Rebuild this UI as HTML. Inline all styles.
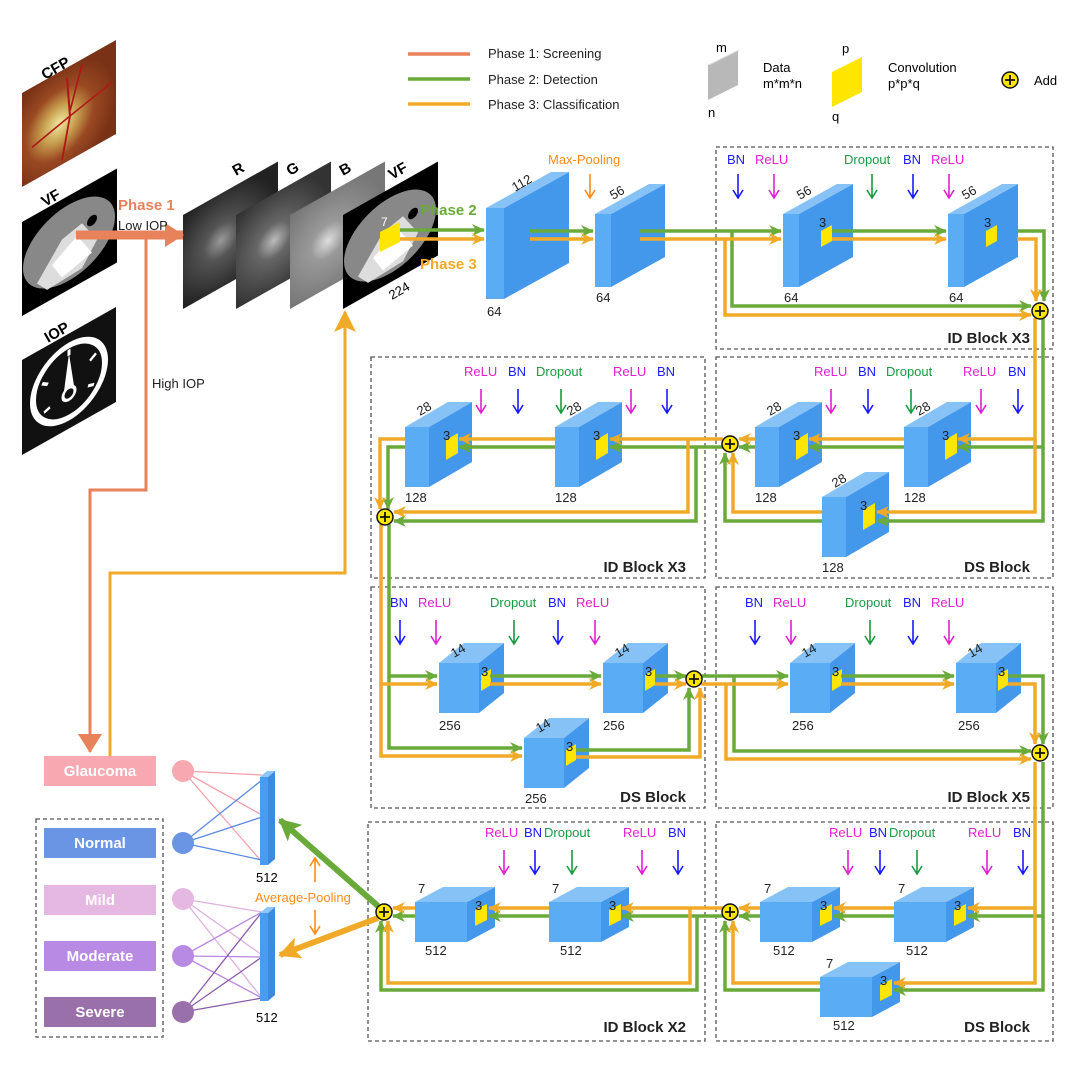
<!DOCTYPE html>
<html><head><meta charset="utf-8"><style>
html,body{margin:0;padding:0;background:#fff;}
svg{display:block;font-family:"Liberation Sans",Arial,sans-serif;}
</style></head><body>
<svg width="1080" height="1085" viewBox="0 0 1080 1085" xmlns="http://www.w3.org/2000/svg">
<defs>
<marker id="mg" markerUnits="userSpaceOnUse" markerWidth="14" markerHeight="14" refX="12" refY="7" orient="auto"><path d="M0,1 L13,7 L0,13 L4,7 Z" fill="#6aaa3a"/></marker>
<marker id="mo" markerUnits="userSpaceOnUse" markerWidth="14" markerHeight="14" refX="12" refY="7" orient="auto"><path d="M0,1 L13,7 L0,13 L4,7 Z" fill="#f0aa28"/></marker>
<marker id="ms" markerUnits="userSpaceOnUse" markerWidth="20" markerHeight="24" refX="18" refY="12" orient="auto"><path d="M0,0 L19,12 L0,24 Z" fill="#e8825a"/></marker>
<marker id="mgb" markerUnits="userSpaceOnUse" markerWidth="24" markerHeight="24" refX="20" refY="12" orient="auto"><path d="M0,1 L22,12 L0,23 L5,12 Z" fill="#6aaa3a"/></marker>
<marker id="mob" markerUnits="userSpaceOnUse" markerWidth="24" markerHeight="24" refX="20" refY="12" orient="auto"><path d="M0,1 L22,12 L0,23 L5,12 Z" fill="#f0aa28"/></marker>
<radialGradient id="cfp" cx="0.4" cy="0.55" r="0.6"><stop offset="0" stop-color="#f0e8a0"/><stop offset="0.3" stop-color="#c8a050"/><stop offset="0.6" stop-color="#9a4a22"/><stop offset="1" stop-color="#7a3216"/></radialGradient>
<radialGradient id="gr1" cx="0.4" cy="0.5" r="0.6"><stop offset="0" stop-color="#999"/><stop offset="0.3" stop-color="#555"/><stop offset="1" stop-color="#222"/></radialGradient>
<radialGradient id="gr2" cx="0.4" cy="0.5" r="0.6"><stop offset="0" stop-color="#bbb"/><stop offset="0.3" stop-color="#666"/><stop offset="1" stop-color="#333"/></radialGradient>
<radialGradient id="gr3" cx="0.4" cy="0.5" r="0.6"><stop offset="0" stop-color="#ddd"/><stop offset="0.3" stop-color="#999"/><stop offset="1" stop-color="#777"/></radialGradient>
<g id="vfimg"><rect width="95" height="94" fill="#000"/><ellipse cx="47" cy="47" rx="46" ry="38" fill="#888"/><path d="M15,70 L40,40 L60,35 L75,60 L60,80 L25,82 Z" fill="#ddd"/><path d="M30,60 L55,45 L70,70 L40,78Z" fill="#fff"/><ellipse cx="70" cy="38" rx="5" ry="5" fill="#000"/></g>
<g id="cA"><rect x="0" y="0" width="18" height="91" fill="#5aacf4"/><polygon points="18,0 83,-36 83,55 18,91" fill="#4498ec"/><polygon points="0,0 65,-36 83,-36 18,0" fill="#86c2f6"/></g>
<g id="cP"><rect x="0" y="0" width="16" height="73" fill="#5aacf4"/><polygon points="16,0 70,-30 70,43 16,73" fill="#4498ec"/><polygon points="0,0 54,-30 70,-30 16,0" fill="#86c2f6"/></g>
<g id="cPy"><use href="#cP"/><polygon points="38,17 49,11 49,27 38,33" fill="#ffe600"/></g>
<g id="c28"><rect x="0" y="0" width="24" height="60" fill="#5aacf4"/><polygon points="24,0 67,-25 67,35 24,60" fill="#4498ec"/><polygon points="0,0 43,-25 67,-25 24,0" fill="#86c2f6"/><polygon points="41,13 53,6 53,26 41,33" fill="#ffe600"/></g>
<g id="c14"><rect x="0" y="0" width="40" height="50" fill="#5aacf4"/><polygon points="40,0 65,-20 65,30 40,50" fill="#4498ec"/><polygon points="0,0 25,-20 65,-20 40,0" fill="#86c2f6"/><polygon points="42,12 52,6 52,22 42,28" fill="#ffe600"/></g>
<g id="c7"><rect x="0" y="0" width="52" height="40" fill="#5aacf4"/><polygon points="52,0 80,-15 80,25 52,40" fill="#4498ec"/><polygon points="0,0 28,-15 80,-15 52,0" fill="#86c2f6"/><polygon points="60,8 72,2 72,18 60,24" fill="#ffe600"/></g>
<g id="plus"><circle r="8" fill="#ffe600" stroke="#111" stroke-width="1.5"/><path d="M-5,0 H5 M0,-5 V5" stroke="#111" stroke-width="1.8"/></g>
</defs>

<!-- Legend -->
<g stroke-width="3.5"><line x1="408" y1="54" x2="470" y2="54" stroke="#e8825a"/><line x1="408" y1="79" x2="470" y2="79" stroke="#6aaa3a"/><line x1="408" y1="104" x2="470" y2="104" stroke="#f0aa28"/></g>
<g font-size="13" fill="#222"><text x="488" y="58">Phase 1: Screening</text><text x="488" y="84">Phase 2: Detection</text><text x="488" y="109">Phase 3: Classification</text></g>
<polygon points="708,65 738,50 738,85 708,100" fill="#b8b8b8"/><polygon points="708,65 738,50 740,50 710,65" fill="#ddd"/>
<text x="716" y="52" font-size="13">m</text><text x="708" y="117" font-size="13">n</text>
<text x="763" y="72" font-size="13">Data</text><text x="763" y="88" font-size="13">m*m*n</text>
<polygon points="832,72 862,57 862,92 832,107" fill="#ffe600"/>
<text x="842" y="53" font-size="13">p</text><text x="832" y="121" font-size="13">q</text>
<text x="888" y="72" font-size="13">Convolution</text><text x="888" y="88" font-size="13">p*p*q</text>
<use href="#plus" x="1010" y="80"/><text x="1034" y="85" font-size="13">Add</text>

<!-- Left images -->
<g transform="translate(22,93) skewY(-29.4)"><rect width="94" height="94" fill="url(#cfp)"/><path d="M45,10 L48,50 L40,90 M48,50 L90,40 M48,50 L10,60 M48,45 L60,5" stroke="#b01818" stroke-width="2" fill="none"/></g>
<text transform="translate(45,80) rotate(-30)" font-size="15" font-weight="bold">CFP</text>
<g transform="translate(22,222) skewY(-29.4)"><use href="#vfimg"/></g>
<text transform="translate(45,207) rotate(-30)" font-size="15" font-weight="bold">VF</text>
<g transform="translate(22,360) skewY(-29.4)"><rect width="94" height="95" fill="#111"/><circle cx="47" cy="48" r="36" fill="none" stroke="#fff" stroke-width="6"/><path d="M47,20 L52,55 L42,55 Z" fill="#fff"/><circle cx="47" cy="60" r="6" fill="none" stroke="#fff" stroke-width="3"/><path d="M20,35 l6,4 M74,35 l-6,4 M47,16 v6 M22,65 l6,-2 M72,65 l-6,-2" stroke="#fff" stroke-width="3"/></g>
<text transform="translate(48,343) rotate(-30)" font-size="15" font-weight="bold">IOP</text>

<!-- RGB stack -->
<g transform="translate(183,215) skewY(-29.4)"><rect width="95" height="94" fill="url(#gr1)"/></g>
<g transform="translate(236,215) skewY(-29.4)"><rect width="95" height="94" fill="url(#gr2)"/></g>
<g transform="translate(290,215) skewY(-29.4)"><rect width="95" height="94" fill="url(#gr3)"/></g>
<g transform="translate(343,215) skewY(-29.4)"><use href="#vfimg"/></g>
<polygon points="380,232 400,222 400,242 380,252" fill="#ffe600"/>
<text x="381" y="226" font-size="12" fill="#fff">7</text>
<g font-size="15" font-weight="bold"><text transform="translate(236,176) rotate(-30)">R</text><text transform="translate(290,176) rotate(-30)">G</text><text transform="translate(343,176) rotate(-30)">B</text><text transform="translate(392,180) rotate(-30)">VF</text></g>
<text transform="translate(392,300) rotate(-30)" font-size="13">224</text>

<!-- phase 1 arrow and lines -->
<line x1="76" y1="235" x2="183" y2="235" stroke="#e8825a" stroke-width="9" marker-end="url(#ms)"/>
<text x="118" y="210" font-size="15" font-weight="bold" fill="#e8825a">Phase 1</text>
<text x="118" y="230" font-size="13" fill="#222">Low IOP</text>
<path d="M146,238 V490 H90 V752" fill="none" stroke="#e8825a" stroke-width="3" marker-end="url(#ms)"/>
<text x="152" y="388" font-size="13" fill="#222">High IOP</text>
<path d="M110,756 V573 H345 V312" fill="none" stroke="#f0aa28" stroke-width="3" marker-end="url(#mob)"/>
<text x="420" y="215" font-size="15" font-weight="bold" fill="#6aaa3a">Phase 2</text>
<text x="420" y="269" font-size="15" font-weight="bold" fill="#f0aa28">Phase 3</text>

<!-- Dashed boxes -->
<g fill="none" stroke="#555" stroke-width="1.3" stroke-dasharray="4,3">
<rect x="716" y="147" width="337" height="202"/>
<rect x="371" y="357" width="334" height="221"/><rect x="716" y="357" width="337" height="221"/>
<rect x="371" y="587" width="334" height="221"/><rect x="716" y="587" width="337" height="221"/>
<rect x="368" y="822" width="337" height="219"/><rect x="716" y="822" width="337" height="219"/>
<rect x="36" y="819" width="127" height="218"/>
</g>
<g font-size="15" font-weight="bold" fill="#222" text-anchor="end">
<text x="1030" y="343">ID Block  X3</text>
<text x="686" y="572">ID Block  X3</text><text x="1030" y="572">DS Block</text>
<text x="686" y="802">DS Block</text><text x="1030" y="802">ID Block  X5</text>
<text x="686" y="1032">ID Block  X2</text><text x="1030" y="1032">DS Block</text>
</g>

<!-- cubes -->
<use href="#cA" x="486" y="208"/><use href="#cP" x="595" y="214"/>
<use href="#cPy" x="783" y="214"/><use href="#cPy" x="948" y="214"/>
<use href="#c28" x="405" y="427"/><use href="#c28" x="555" y="427"/>
<use href="#c28" x="755" y="427"/><use href="#c28" x="904" y="427"/><use href="#c28" x="822" y="497"/>
<use href="#c14" x="439" y="663"/><use href="#c14" x="603" y="663"/><use href="#c14" x="524" y="738"/>
<use href="#c14" x="790" y="663"/><use href="#c14" x="956" y="663"/>
<use href="#c7" x="415" y="902"/><use href="#c7" x="549" y="902"/>
<use href="#c7" x="760" y="902"/><use href="#c7" x="894" y="902"/><use href="#c7" x="820" y="977"/>

<!-- cube labels -->
<g font-size="13" fill="#222">
<text transform="translate(515,192) rotate(-30)">112</text><text x="487" y="316">64</text>
<text transform="translate(613,200) rotate(-30)">56</text><text x="596" y="302">64</text>
<text transform="translate(800,200) rotate(-30)">56</text><text x="784" y="302">64</text><text x="819" y="227">3</text>
<text transform="translate(965,200) rotate(-30)">56</text><text x="949" y="302">64</text><text x="984" y="227">3</text>
<text transform="translate(420,416) rotate(-30)">28</text><text x="405" y="502">128</text><text x="443" y="440">3</text>
<text transform="translate(570,416) rotate(-30)">28</text><text x="555" y="502">128</text><text x="593" y="440">3</text>
<text transform="translate(770,416) rotate(-30)">28</text><text x="755" y="502">128</text><text x="793" y="440">3</text>
<text transform="translate(919,416) rotate(-30)">28</text><text x="904" y="502">128</text><text x="942" y="440">3</text>
<text transform="translate(835,488) rotate(-30)">28</text><text x="822" y="572">128</text><text x="860" y="510">3</text>
<text transform="translate(454,658) rotate(-30)">14</text><text x="439" y="730">256</text><text x="481" y="676">3</text>
<text transform="translate(618,658) rotate(-30)">14</text><text x="603" y="730">256</text><text x="645" y="676">3</text>
<text transform="translate(539,733) rotate(-30)">14</text><text x="525" y="803">256</text><text x="566" y="751">3</text>
<text transform="translate(805,658) rotate(-30)">14</text><text x="792" y="730">256</text><text x="832" y="676">3</text>
<text transform="translate(971,658) rotate(-30)">14</text><text x="958" y="730">256</text><text x="998" y="676">3</text>
<text x="418" y="893">7</text><text x="425" y="955">512</text><text x="475" y="910">3</text>
<text x="552" y="893">7</text><text x="560" y="955">512</text><text x="609" y="910">3</text>
<text x="764" y="893">7</text><text x="773" y="955">512</text><text x="820" y="910">3</text>
<text x="898" y="893">7</text><text x="906" y="955">512</text><text x="954" y="910">3</text>
<text x="826" y="968">7</text><text x="833" y="1030">512</text><text x="880" y="985">3</text>
</g>

<!-- op labels and arrows -->
<g font-size="13">
<text x="548" y="164" fill="#ff8c1a">Max-Pooling</text>
<text x="727" y="164" fill="#1a1aff">BN</text><text x="755" y="164" fill="#e020d0">ReLU</text><text x="844" y="164" fill="#1a9a40">Dropout</text><text x="903" y="164" fill="#1a1aff">BN</text><text x="931" y="164" fill="#e020d0">ReLU</text>
<text x="464" y="376" fill="#e020d0">ReLU</text><text x="508" y="376" fill="#1a1aff">BN</text><text x="536" y="376" fill="#1a9a40">Dropout</text><text x="613" y="376" fill="#e020d0">ReLU</text><text x="657" y="376" fill="#1a1aff">BN</text>
<text x="814" y="376" fill="#e020d0">ReLU</text><text x="858" y="376" fill="#1a1aff">BN</text><text x="886" y="376" fill="#1a9a40">Dropout</text><text x="963" y="376" fill="#e020d0">ReLU</text><text x="1008" y="376" fill="#1a1aff">BN</text>
<text x="390" y="607" fill="#1a1aff">BN</text><text x="418" y="607" fill="#e020d0">ReLU</text><text x="490" y="607" fill="#1a9a40">Dropout</text><text x="548" y="607" fill="#1a1aff">BN</text><text x="576" y="607" fill="#e020d0">ReLU</text>
<text x="745" y="607" fill="#1a1aff">BN</text><text x="773" y="607" fill="#e020d0">ReLU</text><text x="845" y="607" fill="#1a9a40">Dropout</text><text x="903" y="607" fill="#1a1aff">BN</text><text x="931" y="607" fill="#e020d0">ReLU</text>
<text x="485" y="837" fill="#e020d0">ReLU</text><text x="524" y="837" fill="#1a1aff">BN</text><text x="544" y="837" fill="#1a9a40">Dropout</text><text x="623" y="837" fill="#e020d0">ReLU</text><text x="668" y="837" fill="#1a1aff">BN</text>
<text x="829" y="837" fill="#e020d0">ReLU</text><text x="869" y="837" fill="#1a1aff">BN</text><text x="889" y="837" fill="#1a9a40">Dropout</text><text x="968" y="837" fill="#e020d0">ReLU</text><text x="1013" y="837" fill="#1a1aff">BN</text>
<text x="255" y="902" fill="#ff8c1a">Average-Pooling</text>
</g>
<g stroke-width="1.6" fill="none">
<path d="M590,174 V197 M585,190 L590,198 L595,190" stroke="#ff8c1a"/>
<path d="M738,174 V197 M733,190 L738,198 L743,190" stroke="#1a1aff"/><path d="M774,174 V197 M769,190 L774,198 L779,190" stroke="#e020d0"/><path d="M872,174 V197 M867,190 L872,198 L877,190" stroke="#1a9a40"/><path d="M913,174 V197 M908,190 L913,198 L918,190" stroke="#1a1aff"/><path d="M949,174 V197 M944,190 L949,198 L954,190" stroke="#e020d0"/>
<path d="M481,389 V412 M476,405 L481,413 L486,405" stroke="#e020d0"/><path d="M518,389 V412 M513,405 L518,413 L523,405" stroke="#1a1aff"/><path d="M561,389 V412 M556,405 L561,413 L566,405" stroke="#1a9a40"/><path d="M631,389 V412 M626,405 L631,413 L636,405" stroke="#e020d0"/><path d="M667,389 V412 M662,405 L667,413 L672,405" stroke="#1a1aff"/>
<path d="M831,389 V412 M826,405 L831,413 L836,405" stroke="#e020d0"/><path d="M868,389 V412 M863,405 L868,413 L873,405" stroke="#1a1aff"/><path d="M911,389 V412 M906,405 L911,413 L916,405" stroke="#1a9a40"/><path d="M981,389 V412 M976,405 L981,413 L986,405" stroke="#e020d0"/><path d="M1018,389 V412 M1013,405 L1018,413 L1023,405" stroke="#1a1aff"/>
<path d="M400,620 V643 M395,636 L400,644 L405,636" stroke="#1a1aff"/><path d="M436,620 V643 M431,636 L436,644 L441,636" stroke="#e020d0"/><path d="M514,620 V643 M509,636 L514,644 L519,636" stroke="#1a9a40"/><path d="M558,620 V643 M553,636 L558,644 L563,636" stroke="#1a1aff"/><path d="M595,620 V643 M590,636 L595,644 L600,636" stroke="#e020d0"/>
<path d="M755,620 V643 M750,636 L755,644 L760,636" stroke="#1a1aff"/><path d="M791,620 V643 M786,636 L791,644 L796,636" stroke="#e020d0"/><path d="M870,620 V643 M865,636 L870,644 L875,636" stroke="#1a9a40"/><path d="M913,620 V643 M908,636 L913,644 L918,636" stroke="#1a1aff"/><path d="M949,620 V643 M944,636 L949,644 L954,636" stroke="#e020d0"/>
<path d="M504,850 V873 M499,866 L504,874 L509,866" stroke="#e020d0"/><path d="M535,850 V873 M530,866 L535,874 L540,866" stroke="#1a1aff"/><path d="M572,850 V873 M567,866 L572,874 L577,866" stroke="#1a9a40"/><path d="M642,850 V873 M637,866 L642,874 L647,866" stroke="#e020d0"/><path d="M678,850 V873 M673,866 L678,874 L683,866" stroke="#1a1aff"/>
<path d="M848,850 V873 M843,866 L848,874 L853,866" stroke="#e020d0"/><path d="M880,850 V873 M875,866 L880,874 L885,866" stroke="#1a1aff"/><path d="M917,850 V873 M912,866 L917,874 L922,866" stroke="#1a9a40"/><path d="M987,850 V873 M982,866 L987,874 L992,866" stroke="#e020d0"/><path d="M1023,850 V873 M1018,866 L1023,874 L1028,866" stroke="#1a1aff"/>
<path d="M315,882 V859 M310,866 L315,858 L320,866" stroke="#ff8c1a"/><path d="M315,910 V933 M310,926 L315,934 L320,926" stroke="#ff8c1a"/>
</g>

<!-- flow lines -->
<g fill="none" stroke-width="3.5" stroke="#6aaa3a" marker-end="url(#mg)">
<path d="M400,230 H484"/><path d="M530,231 H593"/><path d="M640,231 H781"/>
<path d="M732,231 V306 H1031"/><path d="M832,231 H946"/><path d="M1017,231 H1044 V301"/>
<path d="M1043,318 V447 H958"/><path d="M1043,447 V521 H877"/><path d="M904,447 H809"/><path d="M755,447 H739"/><path d="M822,521 H725 V453"/>
<path d="M723,447 H610"/><path d="M696,447 V521 H394"/><path d="M555,447 H459"/><path d="M405,447 H388 V509"/>
<path d="M389,524 V676 H437"/><path d="M389,676 V748 H522"/>
<path d="M490,676 H601"/><path d="M655,676 H686"/><path d="M576,750 H689 V688"/>
<path d="M701,676 H788"/><path d="M734,676 V751 H1031"/><path d="M841,676 H954"/><path d="M1008,676 H1043 V744"/>
<path d="M1043,762 V916 H968"/><path d="M1043,916 V990 H894"/><path d="M894,916 H834"/><path d="M760,916 H739"/><path d="M820,990 H725 V921"/>
<path d="M723,916 H622"/><path d="M697,916 V990 H381 V921"/><path d="M549,916 H489"/><path d="M415,916 H393"/>
</g>
<g fill="none" stroke-width="3.5" stroke="#f0aa28" marker-end="url(#mo)">
<path d="M400,239 H484"/><path d="M530,239 H593"/><path d="M640,239 H781"/>
<path d="M725,239 V315 H1031"/><path d="M832,239 H946"/><path d="M1017,239 H1036 V301"/>
<path d="M1035,318 V439 H958"/><path d="M1035,439 V512 H877"/><path d="M904,439 H809"/><path d="M755,439 H739"/><path d="M822,512 H733 V453"/>
<path d="M723,439 H610"/><path d="M688,439 V512 H394"/><path d="M555,439 H459"/><path d="M405,439 H380 V509"/>
<path d="M381,524 V684 H437"/><path d="M381,684 V756 H522"/>
<path d="M490,684 H601"/><path d="M655,684 H686"/><path d="M576,757 H700 V688"/>
<path d="M701,684 H788"/><path d="M726,684 V759 H1031"/><path d="M841,684 H954"/><path d="M1008,684 H1035 V744"/>
<path d="M1035,762 V908 H968"/><path d="M1035,908 V983 H894"/><path d="M894,908 H834"/><path d="M760,908 H739"/><path d="M820,983 H733 V921"/>
<path d="M723,908 H622"/><path d="M690,908 V983 H388 V921"/><path d="M549,908 H489"/><path d="M415,908 H393"/>
</g>
<line x1="378" y1="906" x2="280" y2="820" stroke="#6aaa3a" stroke-width="6" marker-end="url(#mgb)"/>
<line x1="378" y1="918" x2="280" y2="955" stroke="#f0aa28" stroke-width="6" marker-end="url(#mob)"/>

<use href="#plus" x="1040" y="311"/><use href="#plus" x="730" y="444"/><use href="#plus" x="385" y="517"/>
<use href="#plus" x="694" y="679"/><use href="#plus" x="1040" y="753"/><use href="#plus" x="730" y="912"/><use href="#plus" x="384" y="912"/>

<!-- classifier -->
<g stroke-width="1.3">
<g stroke="#f5a0a8"><line x1="183" y1="771" x2="262" y2="775"/><line x1="183" y1="771" x2="262" y2="815"/><line x1="183" y1="771" x2="262" y2="862"/></g>
<g stroke="#5a88e0"><line x1="183" y1="843" x2="262" y2="780"/><line x1="183" y1="843" x2="262" y2="817"/><line x1="183" y1="843" x2="262" y2="860"/></g>
<g stroke="#e0b0e0"><line x1="183" y1="899" x2="262" y2="912"/><line x1="183" y1="899" x2="262" y2="955"/><line x1="183" y1="899" x2="262" y2="998"/></g>
<g stroke="#b888e0"><line x1="183" y1="956" x2="262" y2="912"/><line x1="183" y1="956" x2="262" y2="957"/><line x1="183" y1="956" x2="262" y2="998"/></g>
<g stroke="#8a5aa8"><line x1="183" y1="1012" x2="262" y2="912"/><line x1="183" y1="1012" x2="262" y2="957"/><line x1="183" y1="1012" x2="262" y2="998"/></g>
</g>
<g><rect x="260" y="777" width="8" height="88" fill="#4a9cf0"/><polygon points="268,777 275,771 275,859 268,865" fill="#3c8ae0"/><polygon points="260,777 267,771 275,771 268,777" fill="#8cc6f7"/></g>
<g><rect x="260" y="913" width="8" height="88" fill="#4a9cf0"/><polygon points="268,913 275,907 275,995 268,1001" fill="#3c8ae0"/><polygon points="260,913 267,907 275,907 268,913" fill="#8cc6f7"/></g>
<text x="256" y="882" font-size="13">512</text><text x="256" y="1022" font-size="13">512</text>
<circle cx="183" cy="771" r="11" fill="#f8a8b0"/><circle cx="183" cy="843" r="11" fill="#6a94e4"/>
<circle cx="183" cy="899" r="11" fill="#e4b8e0"/><circle cx="183" cy="956" r="11" fill="#b98ae4"/><circle cx="183" cy="1012" r="11" fill="#9a70aa"/>
<g font-size="15" font-weight="bold" fill="#fff" text-anchor="middle">
<rect x="44" y="756" width="112" height="30" fill="#f8a8b0"/><text x="100" y="776">Glaucoma</text>
<rect x="44" y="828" width="112" height="30" fill="#6a94e4"/><text x="100" y="848">Normal</text>
<rect x="44" y="885" width="112" height="30" fill="#e4b8e0"/><text x="100" y="905">Mild</text>
<rect x="44" y="941" width="112" height="30" fill="#b98ae4"/><text x="100" y="961">Moderate</text>
<rect x="44" y="997" width="112" height="30" fill="#9a70aa"/><text x="100" y="1017">Severe</text>
</g>
</svg>
</body></html>
